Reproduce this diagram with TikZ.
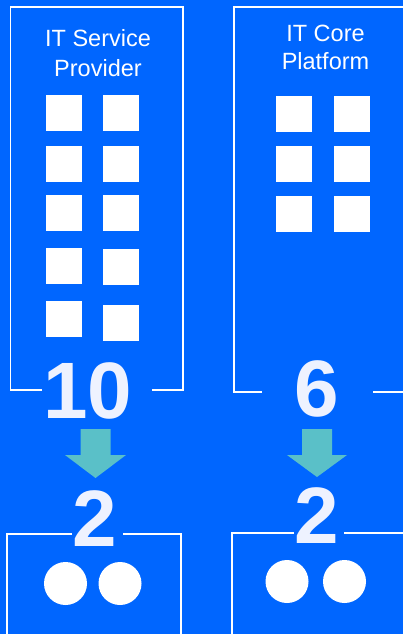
\documentclass[tikz,border=0pt]{standalone}
\usepackage{fontspec}
\setmainfont{Liberation Sans}
\usetikzlibrary{positioning}
\definecolor{bgblue}{RGB}{0,102,255}
\definecolor{arrowteal}{RGB}{90,192,200}
\definecolor{numwhite}{RGB}{238,242,255}
\tikzset{
  frame/.style={draw=white,line width=1.6pt},
  tile/.style={fill=white,minimum size=36pt,inner sep=0pt},
  dot/.style={circle,fill=white,minimum size=43pt,inner sep=0pt},
  title/.style={text=white,align=center,inner sep=0pt},
  bignum/.style={text=numwhite,font=\fontsize{80}{80}\selectfont\bfseries,inner sep=0pt},
  downarrow/.style={fill=arrowteal},
}

\begin{document}
\begin{tikzpicture}[x=1pt,y=-1pt]
  \fill[bgblue] (0,0) rectangle (403,634);
  \useasboundingbox (0,0) rectangle (403,634);
  % upper frames, broken where the counts sit
  \draw[frame] (42,390) -- (10.5,390) -- (10.5,7) -- (183,7) -- (183,390) -- (152,390);
  \draw[frame] (262,392) -- (234,392) -- (234,7) -- (404,7);
  \draw[frame] (373,392) -- (404,392);
  % lower frames
  \draw[frame] (72,534) -- (7,534) -- (7,640);
  \draw[frame] (123,534) -- (181,534) -- (181,640);
  \draw[frame] (294,533) -- (232,533) -- (232,640);
  \draw[frame] (344,533) -- (404,533);
  % titles
  \node[title,font=\fontsize{23.5}{30}\selectfont] (provider) at (98,53.5) {IT Service\\Provider};
  \node[title,font=\fontsize{23.5}{28.3}\selectfont] (platform) at (325.5,47.5) {IT Core\\Platform};
  % service tiles
  \foreach \i/\x/\y in {1/64/112.5,2/121/112.5,3/64/163.5,4/121/163.5,5/64/213,
      6/121/213,7/64/265.5,8/121/267,9/64/318.5,10/121/323}
    \node[tile] (sp\i) at (\x,\y) {};
  % core tiles
  \foreach \i/\x/\y in {1/294/113.5,2/351.5/113.5,3/294/164,4/351.5/164,
      5/294/213.5,6/351.5/213.5}
    \node[tile] (cp\i) at (\x,\y) {};
  % counts
  \node[bignum] (spcount) at (88,391) {10};
  \node[bignum] (cpcount) at (317,389) {6};
  \node[bignum] (spnew) at (95,518.5) {2};
  \node[bignum] (cpnew) at (317,516) {2};
  % reduction arrows
  \fill[downarrow,shift={(95.5,429)}] (-15,0) -- (15,0) -- (15,26) -- (30.5,26)
    -- (0,49) -- (-30.5,26) -- (-15,26) -- cycle;
  \fill[downarrow,shift={(317,429)}] (-15,0) -- (15,0) -- (15,26) -- (30,26)
    -- (0,48) -- (-30,26) -- (-15,26) -- cycle;
  % remaining units
  \node[dot] (spdot1) at (65.5,583.5) {};
  \node[dot] (spdot2) at (120,583.5) {};
  \node[dot] (cpdot1) at (287,581.5) {};
  \node[dot] (cpdot2) at (344.5,581.5) {};
\end{tikzpicture}
\end{document}
